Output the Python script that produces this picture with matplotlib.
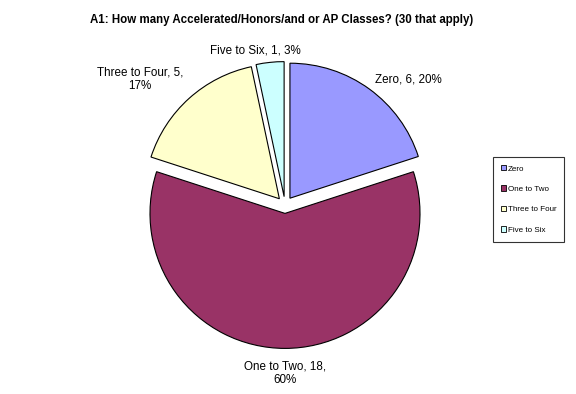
import matplotlib

matplotlib.use("Agg")

import matplotlib.pyplot as plt
from matplotlib.patches import Patch

plt.rcParams["font.family"] = ["Liberation Sans", "DejaVu Sans"]

categories = ["Zero", "One to Two", "Three to Four", "Five to Six"]
counts = [6, 18, 5, 1]
percents = ["20%", "60%", "17%", "3%"]
colors = ["#9999FF", "#993366", "#FFFFCC", "#CCFFFF"]
title = "A1: How many Accelerated/Honors/and or AP Classes? (30 that apply)"

W, H = 576, 394
fig = plt.figure(figsize=(W / 100, H / 100), dpi=100)
ax = fig.add_axes((0, 0, 1, 1))

# pie centre and radius in pixel units (y measured up from the bottom);
# explode is an absolute offset in the same units
cx, cy, r = 285, H - 205, 135
ax.pie(counts, colors=colors, startangle=90, counterclock=False,
       explode=[8.4] * len(counts), center=(cx, cy), radius=r,
       wedgeprops=dict(edgecolor="black", linewidth=0.8), frame=True)
ax.set_xlim(0, W)
ax.set_ylim(0, H)
ax.set_aspect("equal")
ax.axis("off")

# data labels, positioned like the Excel original
label_pos = [(408, 79), (285, 373), (140, 79), (255, 50)]
wrap = [False, True, True, False]
for cat, n, pct, (lx, ly), w in zip(categories, counts, percents, label_pos, wrap):
    txt = f"{cat}, {n},\n{pct}" if w else f"{cat}, {n}, {pct}"
    ax.text(lx, H - ly, txt, ha="center", va="center", fontsize=8.4,
            linespacing=1.15)

fig.text(282 / W, 1 - 20 / H, title, ha="center", va="center",
         fontsize=8.3, fontweight="bold")

handles = [Patch(facecolor=c, edgecolor="black", linewidth=0.6) for c in colors]
leg = fig.legend(handles, categories, loc="upper left",
                 bbox_to_anchor=(493 / W, 1 - 157 / H), fontsize=5.8,
                 frameon=True, fancybox=False, edgecolor="black",
                 handlelength=0.65, handleheight=0.65, handletextpad=0.15,
                 labelspacing=1.6, borderpad=1.0, borderaxespad=0)
leg.get_frame().set_linewidth(0.8)

fig.savefig("out.png", dpi=100)
